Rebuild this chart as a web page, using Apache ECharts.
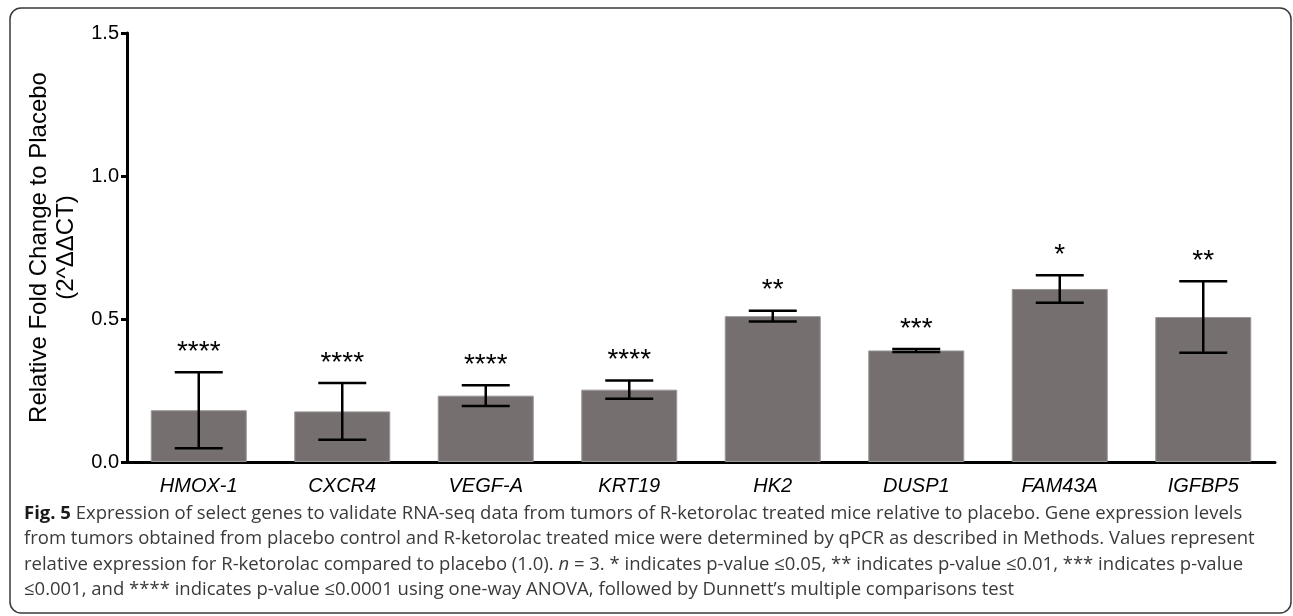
<!DOCTYPE html>
<html>
<head>
<meta charset="utf-8">
<script src="https://cdn.jsdelivr.net/npm/echarts@6/dist/echarts.min.js"></script>
<style>
html,body{margin:0;padding:0;background:#fff;}
#chart{width:1293px;height:616px;}
</style>
</head>
<body>
<div id="chart"></div>
<script>
const genes = ['HMOX-1', 'CXCR4', 'VEGF-A', 'KRT19', 'HK2', 'DUSP1', 'FAM43A', 'IGFBP5'];
const meanFold = [0.181, 0.177, 0.232, 0.253, 0.510, 0.390, 0.605, 0.507];
const semFold = [0.133, 0.099, 0.036, 0.032, 0.019, 0.0055, 0.048, 0.125];
const signif = ['****', '****', '****', '****', '**', '***', '*', '**'];
const yTicks = [0, 0.5, 1.0, 1.5];

const captionLines = [
  [{b:true, t:'Fig. 5'}, {b:false, t:' Expression of select genes to validate RNA-seq data from tumors of R-ketorolac treated mice relative to placebo. Gene expression levels'}],
  [{b:false, t:'from tumors obtained from placebo control and R-ketorolac treated mice were determined by qPCR as described in Methods. Values represent'}],
  [{b:false, t:'relative expression for R-ketorolac compared to placebo (1.0). '}, {b:false, i:true, t:'n'}, {b:false, t:' = 3. * indicates p-value \u22640.05, ** indicates p-value \u22640.01, *** indicates p-value'}],
  [{b:false, t:'\u22640.001, and **** indicates p-value \u22640.0001 using one-way ANOVA, followed by Dunnett\u2019s multiple comparisons test'}]
];

const chart = echarts.init(document.getElementById('chart'), null, {renderer:'canvas'});

const capFont = '"Open Sans", sans-serif';
const cv = document.createElement('canvas').getContext('2d');
function lineWidth(line, size){
  let w = 0;
  line.forEach(s => { cv.font = (s.i?'italic ':'') + (s.b?'bold ':'') + size + 'px ' + capFont; w += cv.measureText(s.t).width; });
  return w;
}
const capX = 24, capY0 = 517, capStep = 25.5;
const capSize = Math.min(18.5, 17 * (1256 - capX) / lineWidth(captionLines[0], 17));

const captionGraphics = [];
captionLines.forEach((line, li) => {
  let x = capX;
  line.forEach(s => {
    const font = (s.i?'italic ':'') + (s.b?'bold ':'') + capSize + 'px ' + capFont;
    cv.font = font;
    captionGraphics.push({
      type:'text', left:x, top: capY0 + li*capStep - capSize*0.7,
      style:{text:s.t, font:font, fill: s.b ? '#1a1a1a' : '#3a3a3a'}
    });
    x += cv.measureText(s.t).width;
  });
});

const option = {
  animation:false,
  backgroundColor:'#fff',
  grid:{left:127, right:18, top:33, bottom:154, containLabel:false},
  xAxis:{
    type:'category', data:genes,
    axisLine:{lineStyle:{color:'#000', width:3}},
    axisTick:{alignWithLabel:true, length:6, lineStyle:{color:'#000', width:3}},
    axisLabel:{color:'#000', fontFamily:'"Liberation Sans", Arial, sans-serif', fontStyle:'italic', fontSize:20, margin:14}
  },
  yAxis:{
    type:'value', min:0, max:1.5, interval:0.5,
    name:'Relative Fold Change to Placebo\n(2^\u0394\u0394CT)',
    nameLocation:'middle', nameRotate:90, nameGap:45,
    nameTextStyle:{color:'#000', fontFamily:'"Liberation Sans", Arial, sans-serif', fontSize:24, lineHeight:27},
    axisLine:{show:true, lineStyle:{color:'#000', width:3}},
    axisTick:{show:true, length:6, lineStyle:{color:'#000', width:3}},
    splitLine:{show:false},
    axisLabel:{color:'#000', fontFamily:'"Liberation Sans", Arial, sans-serif', fontSize:20, margin:8,
      formatter: v => yTicks.includes(v) ? v.toFixed(1) : ''}
  },
  series:[
    {
      type:'bar', data:meanFold, barWidth:96,
      itemStyle:{color:'#75706f', borderColor:'#9a9695', borderWidth:1},
      z:2
    },
    {
      type:'custom',
      data: meanFold.map((m,i) => [i, m - semFold[i], m + semFold[i]]),
      renderItem:(params, api) => {
        const i = api.value(0);
        const lo = api.coord([i, api.value(1)]);
        const hi = api.coord([i, api.value(2)]);
        const half = 24;
        const st = {stroke:'#000', lineWidth:2.5};
        const s = signif[params.dataIndex];
        return {type:'group', children:[
          {type:'line', shape:{x1:lo[0], y1:lo[1], x2:hi[0], y2:hi[1]}, style:st},
          {type:'line', shape:{x1:lo[0]-half, y1:lo[1], x2:lo[0]+half, y2:lo[1]}, style:st},
          {type:'line', shape:{x1:hi[0]-half, y1:hi[1], x2:hi[0]+half, y2:hi[1]}, style:st},
          {type:'text', x:hi[0], y:hi[1]-20, style:{text:s, fill:'#000', font:'28px "Liberation Sans", Arial, sans-serif', textAlign:'center', textVerticalAlign:'middle'}}
        ]};
      },
      z:3
    }
  ],
  graphic:[
    {type:'rect', shape:{x:10, y:8, width:1281, height:605, r:11}, style:{fill:'none', stroke:'#3a3a3a', lineWidth:1.5}, z:-1}
  ].concat(captionGraphics)
};
chart.setOption(option);
</script>
</body>
</html>
